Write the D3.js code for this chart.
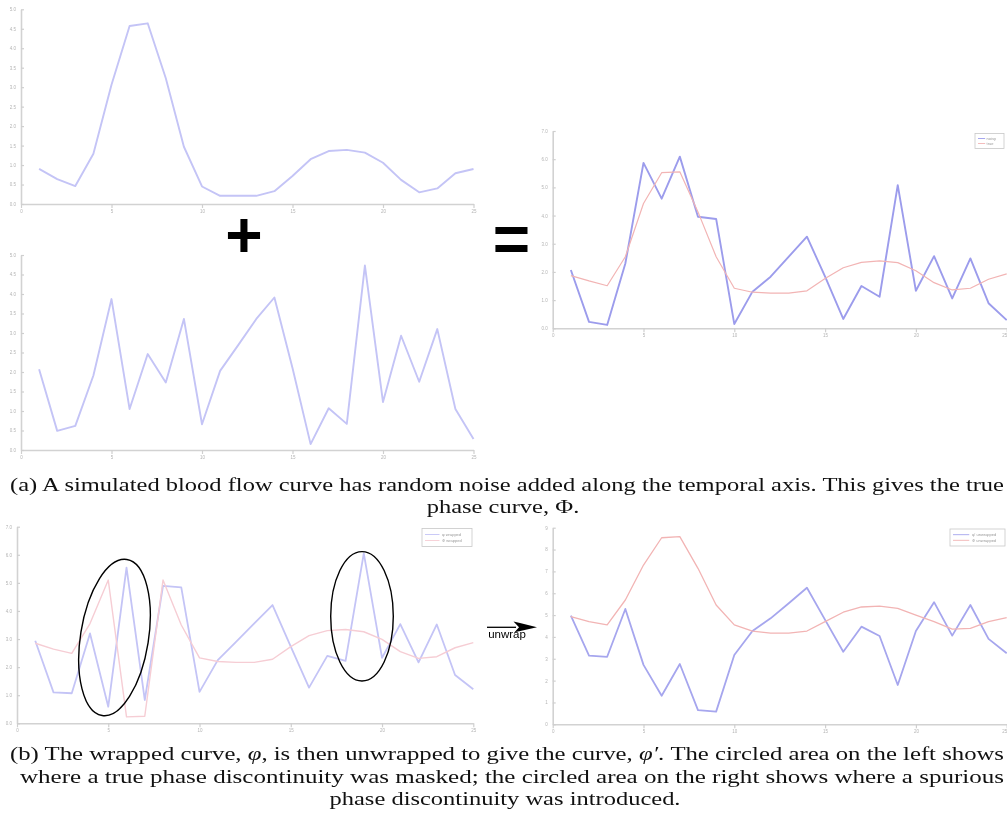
<!DOCTYPE html>
<html>
<head>
<meta charset="utf-8">
<script src="https://cdn.jsdelivr.net/npm/d3@7"></script>
<style>
  html, body { margin: 0; padding: 0; background: #fff; overflow: hidden; }
  svg { display: block; }
</style>
</head>
<body>
<svg id="fig" width="1007" height="822"></svg>
<script>
// ---- sample positions along the temporal axis ----
const samples = [1, 2, 3, 4, 5, 6, 7, 8, 9, 10, 11, 12, 13, 14, 15, 16, 17, 18, 19, 20, 21, 22, 23, 24, 25];
const xTicks = [0, 5, 10, 15, 20, 25];

// ---- (a) simulated blood flow curve ----
const bloodFlow = [0.9, 0.64, 0.46, 1.29, 3.06, 4.57, 4.64, 3.23, 1.47, 0.45, 0.21, 0.21, 0.21, 0.33, 0.72,
                   1.15, 1.36, 1.39, 1.32, 1.06, 0.62, 0.3, 0.4, 0.79, 0.9];
// ---- (a) random noise along the temporal axis ----
const noise = [2.07, 0.49, 0.62, 1.91, 3.87, 1.05, 2.46, 1.73, 3.36, 0.66, 2.03, 2.69, 3.36, 3.91, 2.1,
               0.15, 1.07, 0.67, 4.73, 1.23, 2.93, 1.75, 3.1, 1.05, 0.28];
const yTicksHalf = [0, 0.5, 1, 1.5, 2, 2.5, 3, 3.5, 4, 4.5, 5];

// ---- (a) true phase curve and clean flow ----
const truePhase = [2.07, 0.23, 0.12, 2.3, 5.87, 4.6, 6.09, 3.96, 3.88, 0.15, 1.3, 1.83, 2.54, 3.25, 1.83,
                   0.33, 1.5, 1.12, 5.08, 1.33, 2.56, 1.06, 2.48, 0.89, 0.29];
const cleanFlow = [1.87, 1.68, 1.51, 2.54, 4.43, 5.52, 5.55, 4.13, 2.54, 1.42, 1.28, 1.25, 1.25, 1.33, 1.77,
                   2.15, 2.34, 2.39, 2.33, 2.04, 1.62, 1.36, 1.42, 1.74, 1.93];
const yTicksPhase = [0, 1, 2, 3, 4, 5, 6, 7];

// ---- (b) wrapped curves ----
const wrappedNoisy = [2.94, 1.1, 1.07, 3.2, 0.59, 5.54, 0.83, 4.89, 4.84, 1.12, 2.25, 2.9, 3.56, 4.21, 2.73,
                      1.27, 2.4, 2.22, 6.05, 2.33, 3.53, 2.17, 3.52, 1.72, 1.21];
const wrappedClean = [2.85, 2.64, 2.49, 3.55, 5.1, 0.23, 0.25, 5.1, 3.5, 2.33, 2.2, 2.17, 2.17, 2.28, 2.73,
                      3.12, 3.3, 3.34, 3.26, 2.99, 2.55, 2.31, 2.37, 2.69, 2.87];

// ---- (b) unwrapped curves ----
const unwrappedNoisy = [4.97, 3.14, 3.09, 5.28, 2.72, 1.31, 2.76, 0.65, 0.58, 3.17, 4.27, 4.85, 5.54, 6.25, 4.78,
                        3.32, 4.47, 4.04, 1.8, 4.27, 5.59, 4.06, 5.46, 3.91, 3.25];
const unwrappedClean = [4.93, 4.7, 4.55, 5.69, 7.29, 8.54, 8.59, 7.14, 5.46, 4.55, 4.27, 4.17, 4.17, 4.27, 4.7,
                        5.13, 5.37, 5.41, 5.31, 5.0, 4.7, 4.36, 4.39, 4.7, 4.88];
const yTicksUnwrap = [0, 1, 2, 3, 4, 5, 6, 7, 8, 9];

// ---- legend labels ----
const legendPhase = ["noisy", "true"];
const legendWrapped = ["φ wrapped", "Φ wrapped"];
const legendUnwrapped = ["φ′ unwrapped", "Φ unwrapped"];

// ---- caption text ----
const captionA = [
  [{ t: "(a) A simulated blood flow curve has random noise added along the temporal axis. This gives the true" }],
  [{ t: "phase curve, Φ." }]
];
const captionB = [
  [{ t: "(b) The wrapped curve, " }, { t: "φ", i: true }, { t: ", is then unwrapped to give the curve, " },
   { t: "φ′", i: true }, { t: ". The circled area on the left shows" }],
  [{ t: "where a true phase discontinuity was masked; the circled area on the right shows where a spurious" }],
  [{ t: "phase discontinuity was introduced." }]
];

const svg = d3.select("#fig");
const defs = svg.append("defs");
defs.append("filter").attr("id", "soft")
  .attr("x", "-5%").attr("y", "-5%").attr("width", "110%").attr("height", "110%")
  .append("feGaussianBlur").attr("stdDeviation", 0.75);

const BLUE_LIGHT = "#c4c4f6";
const BLUE_MID = "#a6a6ee";
const RED_LIGHT = "#f2b4b4";
const RED_FAINT = "#f6cdd4";

function drawPanel(p) {
  const g = svg.append("g").attr("filter", "url(#soft)");
  const x = d3.scaleLinear().domain([0, 25]).range([p.left, p.right]);
  const y = d3.scaleLinear().domain([0, p.yMax]).range([p.bottom, p.top]);

  const ax = g.append("g")
    .attr("transform", `translate(0,${p.bottom})`)
    .call(d3.axisBottom(x).tickValues(xTicks).tickSizeInner(4).tickSizeOuter(0).tickPadding(2));
  const ay = g.append("g")
    .attr("transform", `translate(${p.left},0)`)
    .call(d3.axisLeft(y).tickValues(p.yTicks).tickSizeInner(-3).tickSizeOuter(0).tickPadding(5));

  [ax, ay].forEach(a => {
    a.select(".domain").attr("stroke", "#d2d2d2").attr("stroke-width", 1.6);
    a.selectAll(".tick line").attr("stroke", "#cfcfcf").attr("stroke-width", 1.2);
    a.selectAll(".tick text").attr("fill", "#b4b4b4").attr("font-size", 4.5)
      .attr("font-family", "Liberation Sans, sans-serif");
  });
  // keep the last x label inside the page edge
  if (p.right > 1000) {
    ax.selectAll(".tick").filter(d => d === 25).select("text").attr("text-anchor", "end");
  }

  const line = d3.line().x((d, i) => x(samples[i])).y(d => y(d));
  p.series.forEach(s => {
    g.append("path").datum(s.values)
      .attr("d", line)
      .attr("fill", "none")
      .attr("stroke", s.color)
      .attr("stroke-width", s.width)
      .attr("stroke-linejoin", "round");
  });

  if (p.legend) {
    const L = p.legend;
    const lg = g.append("g");
    lg.append("rect").attr("x", L.x).attr("y", L.y).attr("width", L.w).attr("height", L.h)
      .attr("fill", "#fff").attr("stroke", "#c8c8c8").attr("stroke-width", 0.8);
    L.labels.forEach((lab, k) => {
      const yy = L.y + L.h * (k + 1) / 3;
      lg.append("line").attr("x1", L.x + 3).attr("x2", L.x + L.w * 0.35).attr("y1", yy).attr("y2", yy)
        .attr("stroke", p.series[k].color).attr("stroke-width", 0.9);
      lg.append("text").attr("x", L.x + L.w * 0.4).attr("y", yy + 1.3)
        .attr("font-size", 4).attr("fill", "#999")
        .attr("font-family", "Liberation Sans, sans-serif").text(lab);
    });
  }
  return { g, x, y };
}

// (a) top-left: blood flow
drawPanel({ left: 21, right: 473.5, top: 9.3, bottom: 204, yMax: 5, yTicks: yTicksHalf,
  series: [{ values: bloodFlow, color: BLUE_LIGHT, width: 1.9 }] });

// (a) bottom-left: noise
drawPanel({ left: 21, right: 473.5, top: 255, bottom: 450, yMax: 5, yTicks: yTicksHalf,
  series: [{ values: noise, color: BLUE_LIGHT, width: 1.9 }] });

// (a) right: true phase curve
drawPanel({ left: 552.7, right: 1006.7, top: 131, bottom: 328.3, yMax: 7, yTicks: yTicksPhase,
  series: [{ values: truePhase, color: "#9c9cec", width: 1.9 },
           { values: cleanFlow, color: RED_LIGHT, width: 1.2 }],
  legend: { x: 975, y: 133.5, w: 29, h: 15, labels: legendPhase } });

// (b) left: wrapped
drawPanel({ left: 17, right: 473.3, top: 526.7, bottom: 723.3, yMax: 7, yTicks: yTicksPhase,
  series: [{ values: wrappedNoisy, color: BLUE_LIGHT, width: 1.8 },
           { values: wrappedClean, color: RED_FAINT, width: 1.4 }],
  legend: { x: 422, y: 528.5, w: 50, h: 18, labels: legendWrapped } });

// (b) right: unwrapped
drawPanel({ left: 552.7, right: 1006.7, top: 527.7, bottom: 724.3, yMax: 9, yTicks: yTicksUnwrap,
  series: [{ values: unwrappedNoisy, color: BLUE_MID, width: 1.8 },
           { values: unwrappedClean, color: RED_LIGHT, width: 1.3 }],
  legend: { x: 950, y: 529, w: 55, h: 17, labels: legendUnwrapped } });

// circled regions on the wrapped curve
svg.append("ellipse").attr("cx", 114.5).attr("cy", 637.5).attr("rx", 34).attr("ry", 79)
  .attr("transform", "rotate(9,114.5,637.5)")
  .attr("fill", "none").attr("stroke", "#000").attr("stroke-width", 1.4);
svg.append("ellipse").attr("cx", 362).attr("cy", 616.3).attr("rx", 31.3).attr("ry", 64.7)
  .attr("fill", "none").attr("stroke", "#000").attr("stroke-width", 1.4);

// operators between the (a) panels
svg.append("text").attr("x", 244).attr("y", 257).attr("text-anchor", "middle")
  .attr("font-family", "Liberation Sans, Arial, sans-serif").attr("font-weight", "bold")
  .attr("font-size", 64).text("+");
svg.append("text").attr("x", 511.5).attr("y", 261).attr("text-anchor", "middle")
  .attr("font-family", "Liberation Sans, Arial, sans-serif").attr("font-weight", "bold")
  .attr("font-size", 64).text("=");

// unwrap arrow
svg.append("line").attr("x1", 487).attr("x2", 516).attr("y1", 627.3).attr("y2", 627.3)
  .attr("stroke", "#000").attr("stroke-width", 1.3);
svg.append("path").attr("d", "M537,627.3 L513.5,621.5 L519,627.3 L514.5,632.3 Z").attr("fill", "#000");
svg.append("text").attr("x", 507).attr("y", 637.5).attr("text-anchor", "middle")
  .attr("font-family", "Liberation Sans, Arial, sans-serif").attr("font-size", 11.5).text("unwrap");

// captions
function captionLine(segs, opts) {
  const t = svg.append("text")
    .attr("x", opts.x).attr("y", opts.y)
    .attr("text-anchor", opts.anchor || "start")
    .attr("font-family", "Liberation Serif, Times New Roman, serif")
    .attr("font-size", 18).attr("fill", "#111");
  segs.forEach(s => {
    t.append("tspan").attr("font-style", s.i ? "italic" : "normal").text(s.t);
  });
  return t;
}
function fitLine(t, len) {
  t.attr("textLength", len).attr("lengthAdjust", "spacingAndGlyphs");
}

const a1 = captionLine(captionA[0], { x: 10, y: 491 });
const natural = a1.node().getComputedTextLength();
const targetA1 = 994;
const stretch = targetA1 / natural;
fitLine(a1, targetA1);

const a2 = captionLine(captionA[1], { x: 503, y: 513, anchor: "middle" });
fitLine(a2, a2.node().getComputedTextLength() * stretch);

const b1 = captionLine(captionB[0], { x: 10, y: 760 });
fitLine(b1, 994);
const b2 = captionLine(captionB[1], { x: 20, y: 783 });
fitLine(b2, 984);
const b3 = captionLine(captionB[2], { x: 505, y: 805, anchor: "middle" });
fitLine(b3, b3.node().getComputedTextLength() * stretch);
</script>
</body>
</html>
